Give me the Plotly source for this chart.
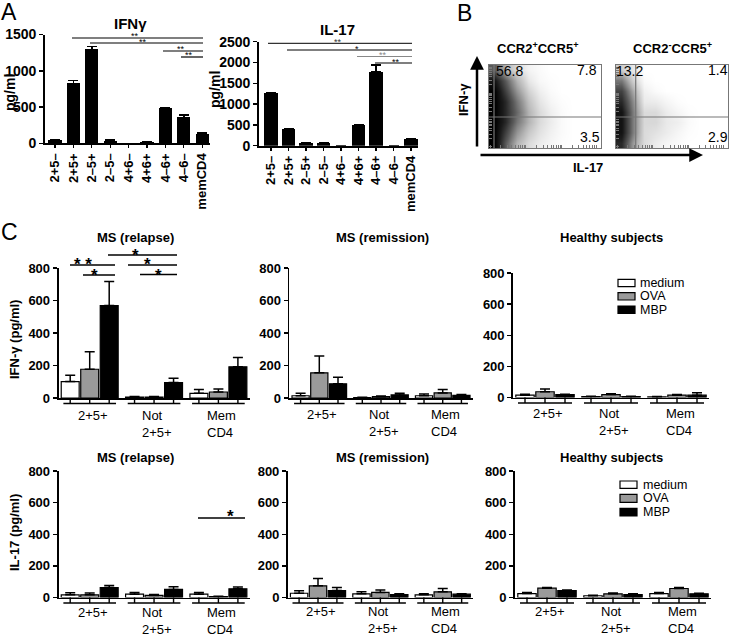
import math
import plotly.graph_objects as go

W, H = 734, 637
FONT = "Liberation Sans, Arial, Helvetica, sans-serif"

def px(x):
    return x / W

def py(y):
    return 1 - y / H

# ---------------- Panel A data ----------------
a_labels = ["2+5–", "2+5+", "2–5+", "2–5–", "4+6–", "4+6+", "4–6+", "4–6–", "memCD4"]
ifng_vals = [45, 825, 1295, 37, 0, 15, 480, 358, 125]
ifng_tops = [52, 865, 1338, 52, 0, 20, 495, 388, 142]
il17_vals = [1255, 393, 72, 70, 0, 497, 1775, 0, 150]
il17_tops = [1272, 408, 80, 78, 0, 505, 1935, 0, 165]

# ---------------- Panel B data (hand-read density grid, top row first) ----------------
flow_left = [
    [6, 3, 1.5, 0.5, 0.2, 0, 0, 0, 0, 0],
    [9, 6, 3, 1, 0.3, 0.1, 0, 0, 0, 0],
    [10, 7, 4, 1.8, 0.7, 0.2, 0, 0, 0, 0],
    [10, 8, 5, 2.5, 1.1, 0.4, 0.1, 0, 0, 0],
    [10, 8, 5.5, 3, 1.5, 0.7, 0.2, 0, 0, 0],
    [10, 8, 5, 3, 1.5, 0.8, 0.2, 0, 0, 0],
    [10, 7, 4, 2.2, 1.2, 0.6, 0.2, 0, 0, 0],
    [10, 6, 3, 1.5, 0.8, 0.4, 0.1, 0, 0, 0],
]
flow_right = [
    [2, 1, 0, 0, 0, 0, 0, 0, 0, 0],
    [5, 2, 0.2, 0, 0, 0, 0, 0, 0, 0],
    [7, 3.5, 0.6, 0.2, 0, 0, 0, 0, 0, 0],
    [8, 4.5, 0.9, 0.8, 0.4, 0.1, 0, 0, 0, 0],
    [9, 5, 1.5, 1.5, 0.8, 0.4, 0.1, 0, 0, 0],
    [9, 5, 1.6, 1.6, 0.9, 0.7, 0.2, 0, 0, 0],
    [9, 5, 1.5, 1.2, 0.8, 0.4, 0.1, 0, 0, 0],
    [8, 4, 1.5, 0.8, 0.4, 0.2, 0, 0, 0, 0],
]
quad_left = ["56.8", "7.8", "3.5"]
quad_right = ["13.2", "1.4", "2.9"]

# ---------------- Panel C data ----------------
c_groups = ["2+5+", "Not<br>2+5+", "Mem<br>CD4"]
stimuli = ["medium", "OVA", "MBP"]
stim_colors = ["white", "#9a9a9a", "black"]

relapse_ifn = {"medium": [101, 6, 29], "OVA": [177, 6, 37], "MBP": [569, 95, 192]}
relapse_ifn_top = {"medium": [140, 10, 52], "OVA": [285, 10, 56], "MBP": [717, 122, 250]}
remission_ifn = {"medium": [14, 2, 14], "OVA": [155, 8, 31], "MBP": [87, 19, 16]}
remission_ifn_top = {"medium": [29, 4, 25], "OVA": [258, 12, 52], "MBP": [128, 29, 21]}
healthy_ifn = {"medium": [15, 6, 4], "OVA": [37, 19, 15], "MBP": [19, 6, 15]}
healthy_ifn_top = {"medium": [21, 8, 6], "OVA": [54, 24, 19], "MBP": [21, 8, 30]}

relapse_il17 = {"medium": [17, 21, 21], "OVA": [17, 13, 6], "MBP": [63, 51, 55]}
relapse_il17_top = {"medium": [30, 32, 32], "OVA": [28, 19, 8], "MBP": [76, 68, 66]}
remission_il17 = {"medium": [27, 23, 17], "OVA": [74, 32, 36], "MBP": [44, 19, 21]}
remission_il17_top = {"medium": [42, 36, 23], "OVA": [120, 48, 57], "MBP": [63, 23, 23]}
healthy_il17 = {"medium": [25, 11, 25], "OVA": [59, 23, 57], "MBP": [44, 19, 23]}
healthy_il17_top = {"medium": [32, 14, 32], "OVA": [63, 29, 63], "MBP": [48, 23, 27]}

c_ticks = [0, 200, 400, 600, 800]

fig = go.Figure()
layout = dict(
    template="none",
    width=W, height=H, margin=dict(l=0, r=0, t=0, b=0, pad=0, autoexpand=False),
    paper_bgcolor="white", plot_bgcolor="rgba(0,0,0,0)", showlegend=False,
    font=dict(family=FONT, color="black"),
)
shapes = []
annotations = []


def axkey(kind, n):
    return f"{kind}axis" + ("" if n == 1 else str(n))


def axref(kind, n):
    return kind + ("" if n == 1 else str(n))


def T(x, y, text, size=13, bold=False, xanchor="center", yanchor="middle", angle=0,
      xref="paper", color="black", align="center"):
    annotations.append(dict(
        x=px(x) if xref == "paper" else x, y=py(y), xref=xref, yref="paper",
        text=f"<b>{text}</b>" if bold else text, showarrow=False,
        xanchor=xanchor, yanchor=yanchor, textangle=angle, align=align,
        font=dict(family=FONT, size=size, color=color)))


def L(x0, y0, x1, y1, color="black", width=1.3, xref="paper"):
    shapes.append(dict(type="line", xref=xref, yref="paper",
                       x0=px(x0) if xref == "paper" else x0, x1=px(x1) if xref == "paper" else x1,
                       y0=py(y0), y1=py(y1), line=dict(color=color, width=width)))


# ---------------- Panel A ----------------
def panel_a(n, vals, tops, xl, xr, x0, step, yb, yt, ymax, tickvals, bw):
    xa, ya = axref("x", n), axref("y", n)
    fig.add_trace(go.Bar(
        x=list(range(len(vals))), y=vals, width=bw, marker=dict(color="black", line=dict(width=0)),
        error_y=dict(type="data", symmetric=False, array=[t - v for t, v in zip(tops, vals)],
                     arrayminus=[0] * len(vals), color="black", thickness=1.5, width=5),
        xaxis=xa, yaxis=ya, hoverinfo="skip"))
    layout[axkey("x", n)] = dict(
        domain=[px(xl), px(xr)], range=[(xl - x0) / step, (xr - x0) / step], anchor=ya,
        showline=True, linecolor="black", linewidth=1.8, ticks="outside", ticklen=3,
        tickcolor="black", tickwidth=1.3, tickvals=list(range(len(vals))), ticktext=a_labels,
        tickangle=-90, tickfont=dict(size=13, family=FONT, color="black", weight="bold"),
        showgrid=False, zeroline=False, fixedrange=True, automargin=False)
    layout[axkey("y", n)] = dict(
        domain=[py(yb), py(yt)], range=[0, ymax], anchor=xa, showline=True, linecolor="black",
        linewidth=1.8, ticks="outside", ticklen=4, tickcolor="black", tickwidth=1.5,
        tickvals=tickvals, tickfont=dict(size=14, family=FONT, color="black", weight="bold"),
        showgrid=False, zeroline=False, fixedrange=True, automargin=False)


panel_a(1, ifng_vals, ifng_tops, 45, 210, 55, 18.4, 143.3, 34.5, 1500, [0, 500, 1000, 1500], 0.72)
panel_a(2, il17_vals, il17_tops, 259, 418, 271, 17.5, 145.7, 41.7, 2500,
        [0, 500, 1000, 1500, 2000, 2500], 0.76)

T(130, 23, "IFNγ", size=15, bold=True)
T(337, 30, "IL-17", size=15, bold=True)
T(10, 93, "pg/ml", size=14, bold=True, angle=-90)
T(215, 90, "pg/ml", size=14, bold=True, angle=-90)

# significance lines panel A
for (x0, x1, y, sx, sy, c) in [(72, 203, 38, 135, 34, "black"), (90, 203, 43, 143, 40, "black"),
                                (163, 203, 51, 181, 47, "black"), (181, 203, 57, 189, 53, "black")]:
    L(x0, y, x1, y, color=c, width=1.2)
    T(sx, sy + 2, "**", size=9, color=c)
for (x0, x1, y, sx, sy, s, c) in [(268, 412, 43.3, 338, 40, "**", "#333"),
                                   (287, 412, 50, 357, 47, "*", "black"),
                                   (357, 412, 56.5, 383, 53, "**", "#888"),
                                   (375, 412, 63, 396, 59.5, "**", "black")]:
    L(x0, y, x1, y, color=c, width=1.2)
    T(sx, sy + 2, s, size=9, color=c)

# ---------------- Panel B ----------------
def log_ticks(start, span, decades):
    out = []
    for d in range(decades):
        base = start + d * span
        for k in range(1, 10):
            out.append(base + span * math.log10(k))
    return out


def flow(n, grid, xl, xr, yt, yb):
    xa, ya = axref("x", n), axref("y", n)
    fig.add_trace(go.Heatmap(
        z=grid[::-1], zmin=0, zmax=10, zsmooth="best", showscale=False,
        colorscale=[[0, "white"], [0.08, "#ececec"], [0.3, "#b4b4b4"], [0.6, "#5a5a5a"],
                    [0.85, "#1c1c1c"], [1, "black"]],
        xaxis=xa, yaxis=ya, hoverinfo="skip"))
    layout[axkey("x", n)] = dict(domain=[px(xl), px(xr)], range=[-0.5, 9.5], anchor=ya,
                                 showline=True, mirror=True, linecolor="#777", linewidth=1.2,
                                 showticklabels=False, ticks="inside", ticklen=3, tickwidth=1,
                                 tickcolor="#777", tickvals=log_ticks(-0.4, 3.2, 3),
                                 showgrid=False, zeroline=False, automargin=False)
    layout[axkey("y", n)] = dict(domain=[py(yb), py(yt)], range=[-0.5, 7.5], anchor=xa,
                                 showline=True, mirror=True, linecolor="#777", linewidth=1.2,
                                 showticklabels=False, ticks="inside", ticklen=3, tickwidth=1,
                                 tickcolor="#777", tickvals=log_ticks(-0.4, 2.6, 3),
                                 showgrid=False, zeroline=False, automargin=False)


flow(3, flow_left, 489, 601, 65, 148)
flow(4, flow_right, 616, 728, 65, 148)
# quadrant lines
L(489, 117, 601, 117, color="#777", width=1.2)
L(494, 65, 494, 148, color="#777", width=1.2)
L(616, 117, 728, 117, color="#777", width=1.2)
L(635.7, 65, 635.7, 148, color="#777", width=1.2)
T(509, 71, quad_left[0], size=14)
T(587, 70, quad_left[1], size=14)
T(590, 137, quad_left[2], size=14)
T(629, 71, quad_right[0], size=14)
T(718, 70, quad_right[1], size=14)
T(718, 137, quad_right[2], size=14)
T(537, 48, "CCR2<sup>+</sup>CCR5<sup>+</sup>", size=13, bold=True)
T(672, 48, "CCR2<sup>-</sup>CCR5<sup>+</sup>", size=13, bold=True)
T(463, 100, "IFN-γ", size=13, bold=True, angle=-90)
T(588, 168, "IL-17", size=13, bold=True)
annotations.append(dict(x=px(477), y=py(56), xref="paper", yref="paper", ax=0, ay=92,
                        text="", showarrow=True, arrowhead=2, arrowsize=1.1, arrowwidth=2.5,
                        arrowcolor="black", standoff=0))
annotations.append(dict(x=px(703), y=py(155), xref="paper", yref="paper", ax=-224, ay=0,
                        text="", showarrow=True, arrowhead=2, arrowsize=1.1, arrowwidth=2.5,
                        arrowcolor="black", standoff=0))

# ---------------- Panel C ----------------
group_x = [0, 3.3, 6.6]
offsets = [-1, 0, 1]
XR = (-1.6, 8.2)


def panel_c(n, vals, tops, c0, unit, yb, yt, label_y):
    xa, ya = axref("x", n), axref("y", n)
    for k, s in enumerate(stimuli):
        fig.add_trace(go.Bar(
            x=[g + offsets[k] for g in group_x], y=vals[s], width=0.92, name=s,
            marker=dict(color=stim_colors[k], line=dict(color="black", width=1.2)),
            error_y=dict(type="data", symmetric=False,
                         array=[t - v for t, v in zip(tops[s], vals[s])], arrayminus=[0, 0, 0],
                         color="black", thickness=1.5, width=5),
            xaxis=xa, yaxis=ya, hoverinfo="skip"))
    xl, xr = c0 + XR[0] * unit, c0 + XR[1] * unit
    layout[axkey("x", n)] = dict(domain=[px(xl), px(xr)], range=list(XR), anchor=ya,
                                 showline=True, linecolor="black", linewidth=1.8,
                                 showticklabels=False, ticks="", showgrid=False, zeroline=False,
                                 automargin=False)
    layout[axkey("y", n)] = dict(domain=[py(yb), py(yt)], range=[0, 800], anchor=xa,
                                 showline=True, linecolor="black", linewidth=1.8, ticks="outside",
                                 ticklen=4, tickwidth=1.5, tickcolor="black", tickvals=c_ticks,
                                 tickfont=dict(size=13, family=FONT, color="black", weight="bold"),
                                 showgrid=False, zeroline=False, automargin=False)
    # grouped under-axis brackets
    yseg = yb + 5.5
    for g, lab in zip(group_x, c_groups):
        L(g - 1.35, yseg, g + 1.35, yseg, width=1.6, xref=xa)
        for o in offsets:
            L(g + o, yb, g + o, yseg, width=1.4, xref=xa)
        T(g + 0.15, label_y, lab, size=13, xref=xa, yanchor="top", align="left")


panel_c(5, relapse_ifn, relapse_ifn_top, 89.7, 19.5, 398, 268, 406)
panel_c(6, remission_ifn, remission_ifn_top, 319.3, 18.7, 398, 268, 405)
panel_c(7, healthy_ifn, healthy_ifn_top, 545, 20, 397.5, 273, 404)
panel_c(8, relapse_il17, relapse_il17_top, 89.7, 19.5, 597.5, 471, 603)
panel_c(9, remission_il17, remission_il17_top, 318, 18.9, 597.5, 471, 602)
panel_c(10, healthy_il17, healthy_il17_top, 547, 20, 597.5, 471, 602)

for yy in (237, 457):
    T(135, yy, "MS (relapse)", size=13, bold=True)
    T(382, yy, "MS (remission)", size=13, bold=True)
    T(611, yy, "Healthy subjects", size=13, bold=True)

T(14, 340, "IFN-γ (pg/ml)", size=13, bold=True, angle=-90)
T(14, 533, "IL-17 (pg/ml)", size=13, bold=True, angle=-90)

# significance in relapse panels
for (x0, x1, y) in [(70, 115, 265), (83, 115, 275), (108, 177, 255), (128, 177, 265), (140, 177, 274.5),
                    (198, 245, 518)]:
    L(x0, y, x1, y, width=1.5)
for (x, y, s) in [(83, 265, "* *"), (94, 275, "*"), (135, 255, "*"), (147, 265, "*"), (158, 275, "*"),
                  (230, 516, "*")]:
    T(x, y, s, size=17, bold=True, yanchor="middle")

# legends (drawn as rectangles + text)
for (bx0, bx1, ys, tx) in [(618, 635, [(279.3, 286.7), (292.7, 300), (306, 313.3)], 638),
                           (620, 637, [(481, 488.3), (494.3, 502.3), (508.3, 516)], 641)]:
    for k, (y0, y1) in enumerate(ys):
        shapes.append(dict(type="rect", xref="paper", yref="paper", x0=px(bx0), x1=px(bx1),
                           y0=py(y1), y1=py(y0), fillcolor=stim_colors[k],
                           line=dict(color="black", width=1.2)))
        T(tx, (y0 + y1) / 2, stimuli[k], size=12.5, xanchor="left")

# panel letters
T(9, 12, "A", size=23)
T(464, 13, "B", size=23)
T(9, 232, "C", size=23)

layout["shapes"] = shapes
layout["annotations"] = annotations
layout["bargap"] = 0
fig.update_layout(**layout)
fig.write_html("out.html", config={"displayModeBar": False, "staticPlot": True},
               post_script="document.body.style.margin='0';document.body.style.overflow='hidden';")
